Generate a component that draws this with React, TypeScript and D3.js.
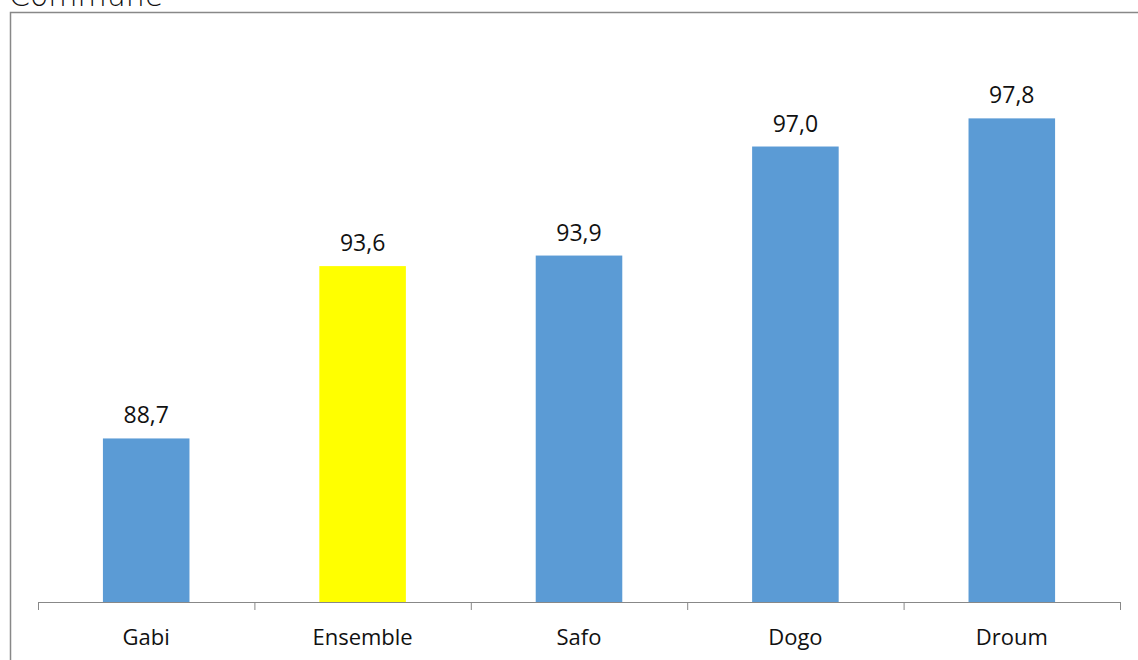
import React from "react";
import * as d3 from "d3";

const categories = ["Gabi", "Ensemble", "Safo", "Dogo", "Droum"];
const values = [88.7, 93.6, 93.9, 97.0, 97.8];
const barColors = ["#5B9BD5", "#FFFF00", "#5B9BD5", "#5B9BD5", "#5B9BD5"];
const title = "Commune";

const W = 1138;
const H = 660;
const plotLeft = 38;
const plotRight = 1120;
const baseY = 602;
const topY = 41;

export default function App() {
  const x = d3.scaleBand<string>().domain(categories).range([plotLeft, plotRight]).paddingInner(0.6).paddingOuter(0.3);
  const xb = d3.scaleBand<string>().domain(categories).range([plotLeft, plotRight]);
  const y = d3.scaleLinear().domain([84.05, 100]).range([baseY, topY]);
  const fmt = (v: number) => v.toFixed(1).replace(".", ",");
  const tickXs = categories.map((c) => xb(c)!).concat([plotRight]);
  return (
    <svg width={W} height={H} style={{ position: "absolute", left: 0, top: 0, background: "#fff" }}>
      <text x={9} y={6} fontFamily="'DejaVu Sans', sans-serif" fontWeight={300} fontSize={30} fill="#111">{title}</text>
      <rect x={10.5} y={12.5} width={W + 10} height={H + 10} fill="none" stroke="#888" strokeWidth={1.5} />
      {categories.map((c, i) => (
        <g key={c}>
          <rect x={x(c)!} y={y(values[i])} width={x.bandwidth()} height={baseY - y(values[i])} fill={barColors[i]} />
          <text x={x(c)! + x.bandwidth() / 2} y={y(values[i]) - 15} textAnchor="middle" fontFamily="'Open Sans', sans-serif" fontSize={23} fill="#111">{fmt(values[i])}</text>
          <text x={xb(c)! + xb.bandwidth() / 2} y={645} textAnchor="middle" fontFamily="'Open Sans', sans-serif" fontSize={22} fill="#111">{c}</text>
        </g>
      ))}
      <line x1={plotLeft} x2={plotRight} y1={baseY + 0.5} y2={baseY + 0.5} stroke="#888" strokeWidth={1} />
      {tickXs.map((t, i) => (
        <line key={i} x1={t + 0.5} x2={t + 0.5} y1={baseY} y2={baseY + 8} stroke="#888" strokeWidth={1} />
      ))}
    </svg>
  );
}
